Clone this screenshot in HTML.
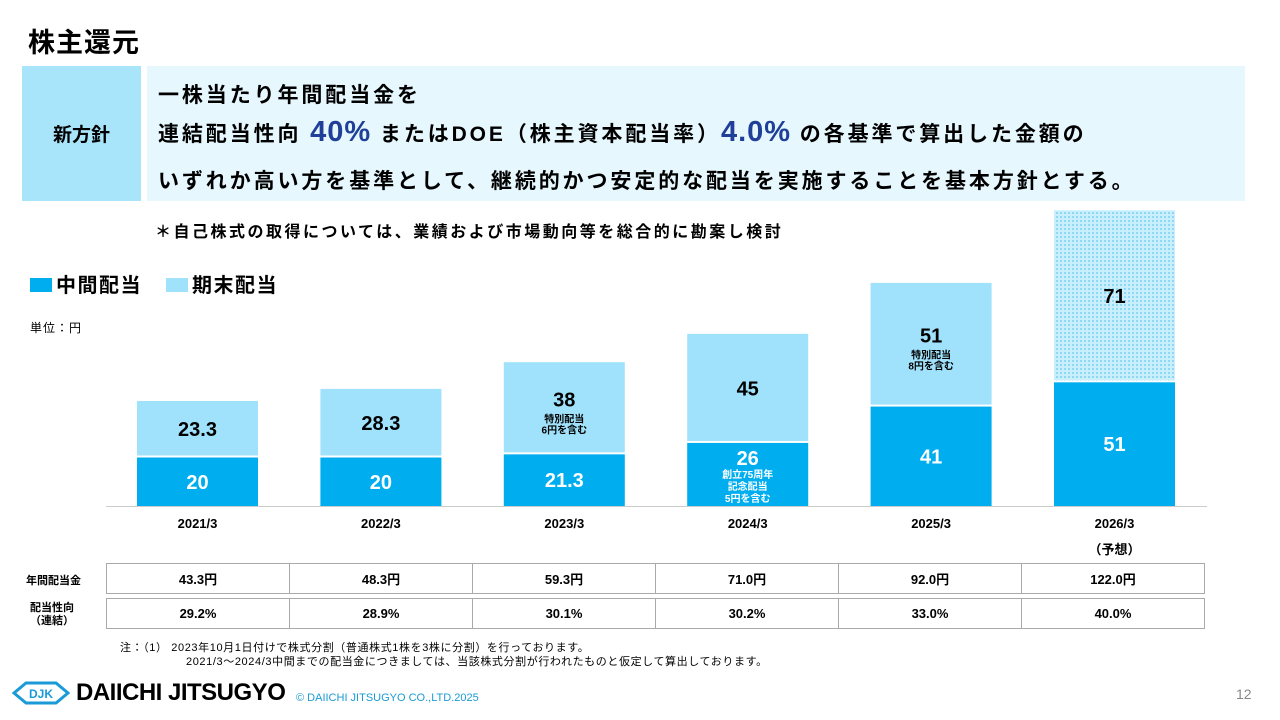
<!DOCTYPE html>
<html><head><meta charset="utf-8"><style>
body{margin:0;width:1280px;height:720px;background:#fff;font-family:"Liberation Sans","Noto Sans CJK JP",sans-serif;position:relative;overflow:hidden;color:#000}
.a{position:absolute}
.b{font-weight:bold}
table{border-collapse:collapse}
td{border:1px solid #aaa;text-align:center;font-size:13px;font-weight:bold;width:182px;height:29px;padding:0}
</style></head><body>
<div class="a b" style="left:28px;top:21px;font-size:27px;letter-spacing:1px">株主還元</div>
<div class="a" style="left:22px;top:66px;width:119px;height:135px;background:#a8e4fa;display:flex;align-items:center;justify-content:center;font-size:19px;font-weight:bold">新方針</div>
<div class="a" style="left:147px;top:66px;width:1098px;height:135px;background:#e6f7fe"></div>
<div class="a b" style="left:158px;top:79px;font-size:21px;letter-spacing:2.9px">一株当たり年間配当金を</div>
<div class="a b" style="left:158px;top:114px;font-size:21px;line-height:36px;letter-spacing:2.9px">連結配当性向 <span style="color:#1f3f99;font-size:29px;letter-spacing:1px">40%</span> またはDOE（株主資本配当率）<span style="color:#1f3f99;font-size:29px;letter-spacing:1px">4.0%</span> の各基準で算出した金額の</div>
<div class="a b" style="left:158px;top:165px;font-size:21px;letter-spacing:2.9px">いずれか高い方を基準として、継続的かつ安定的な配当を実施することを基本方針とする。</div>
<div class="a b" style="left:155px;top:218px;font-size:16px;letter-spacing:2.5px">＊自己株式の取得については、業績および市場動向等を総合的に勘案し検討</div>
<div class="a b" style="left:30px;top:269px;font-size:20px;letter-spacing:1.5px"><span style="display:inline-block;width:22px;height:14px;background:#00aeef;margin-right:4px"></span>中間配当</div>
<div class="a b" style="left:166px;top:269px;font-size:20px;letter-spacing:1.5px"><span style="display:inline-block;width:22px;height:14px;background:#a0e2fb;margin-right:4px"></span>期末配当</div>
<div class="a" style="left:30px;top:319px;font-size:12px;letter-spacing:1px">単位：円</div>
<svg class="a" style="left:0;top:0" width="1280" height="560">
<defs><pattern id="dots" width="4" height="4" patternUnits="userSpaceOnUse"><rect width="4" height="4" fill="#c9effd"/><rect width="2" height="2" fill="#8fd8f5"/></pattern></defs>
<g id="g"></g></svg>
<table class="a" style="left:106px;top:563px">
<tr><td>43.3円</td><td>48.3円</td><td>59.3円</td><td>71.0円</td><td>92.0円</td><td>122.0円</td></tr>
<tr><td colspan="6" style="border:none;height:4px"></td></tr>
<tr><td>29.2%</td><td>28.9%</td><td>30.1%</td><td>30.2%</td><td>33.0%</td><td>40.0%</td></tr>
</table>
<div class="a b" style="left:26px;top:572px;font-size:11px">年間配当金</div>
<div class="a b" style="left:30px;top:602px;font-size:11px;text-align:center;line-height:13px">配当性向<br>（連結）</div>
<div class="a" style="left:120px;top:641px;font-size:11px;line-height:14px;letter-spacing:0.6px">注：（1） 2023年10月1日付けで株式分割（普通株式1株を3株に分割）を行っております。<br><span style="padding-left:66px">2021/3～2024/3中間までの配当金につきましては、当該株式分割が行われたものと仮定して算出しております。</span></div>
<div class="a" style="left:12px;top:679px;display:flex;align-items:center">
<svg width="58" height="26"><polygon points="2,13 14,3 44,3 56,13 44,23 14,23" fill="none" stroke="#1a9ad6" stroke-width="3"/><text x="29" y="18" text-anchor="middle" font-size="12" font-weight="bold" fill="#1a9ad6" font-family="Liberation Sans">DJK</text></svg>
<span class="b" style="font-size:24px;margin-left:6px;letter-spacing:-0.5px">DAIICHI JITSUGYO</span></div>
<div class="a" style="left:296px;top:692px;font-size:11px;color:#1a9ad6">© DAIICHI JITSUGYO CO.,LTD.2025</div>
<div class="a" style="left:1236px;top:686px;font-size:14px;color:#888">12</div>
<script>
const categories=["2021/3","2022/3","2023/3","2024/3","2025/3","2026/3"];
const interim=[20,20,21.3,26,41,51];
const yearEnd=[23.3,28.3,38,45,51,71];
const interimLabels=["20","20","21.3","26","41","51"];
const yearEndLabels=["23.3","28.3","38","45","51","71"];
const yearEndNotes=["","","特別配当|6円を含む","","特別配当|8円を含む",""];
const interimNotes=["","","","創立75周年|記念配当|5円を含む","",""];
const NS="http://www.w3.org/2000/svg",g=document.getElementById("g");
const base=506,k=2.425,x0=137,step=183.4,bw=121;
const y=v=>base-v*k, xi=i=>x0+i*step;
function mk(t,a){const e=document.createElementNS(NS,t);for(const n in a)e.setAttribute(n,a[n]);g.appendChild(e);return e;}
function txt(s,x,yy,size,fill){const e=mk("text",{x:x,y:yy,"text-anchor":"middle","font-size":size,"font-weight":"bold",fill:fill,"font-family":"Liberation Sans, Noto Sans CJK JP, sans-serif"});e.textContent=s;return e;}
mk("line",{x1:106,x2:1207,y1:base+0.5,y2:base+0.5,stroke:"#ccc"});
categories.forEach((c,i)=>{
 const x=xi(i),cx=x+bw/2;
 const r1=mk("rect",{x:x,y:y(interim[i]),width:bw,height:interim[i]*k,fill:"#00aeef"});
 
 
 const top=y(interim[i]+yearEnd[i]);
 const r2=mk("rect",{x:x,y:top,width:bw,height:yearEnd[i]*k-2,fill:i==5?"url(#dots)":"#a0e2fb"});
 
 
 const ym=(y(interim[i])+base)/2;
 if(interimNotes[i]){txt(interimLabels[i],cx,y(interim[i])+22,20,"#fff");interimNotes[i].split("|").forEach((s,j)=>txt(s,cx,y(interim[i])+35+j*12,10,"#fff"));}
 else txt(interimLabels[i],cx,ym+7,20,"#fff");
 const ye=(top+y(interim[i]))/2;
 if(yearEndNotes[i]){txt(yearEndLabels[i],cx,ye-2,20,"#000");yearEndNotes[i].split("|").forEach((s,j)=>txt(s,cx,ye+14+j*11,10,"#000"));}
 else txt(yearEndLabels[i],cx,ye+7,20,"#000");
 const l=txt(c,cx,528,13,"#000");
 
 
});
txt("（予想）",xi(5)+bw/2,554,13,"#000");
</script>
</body></html>
